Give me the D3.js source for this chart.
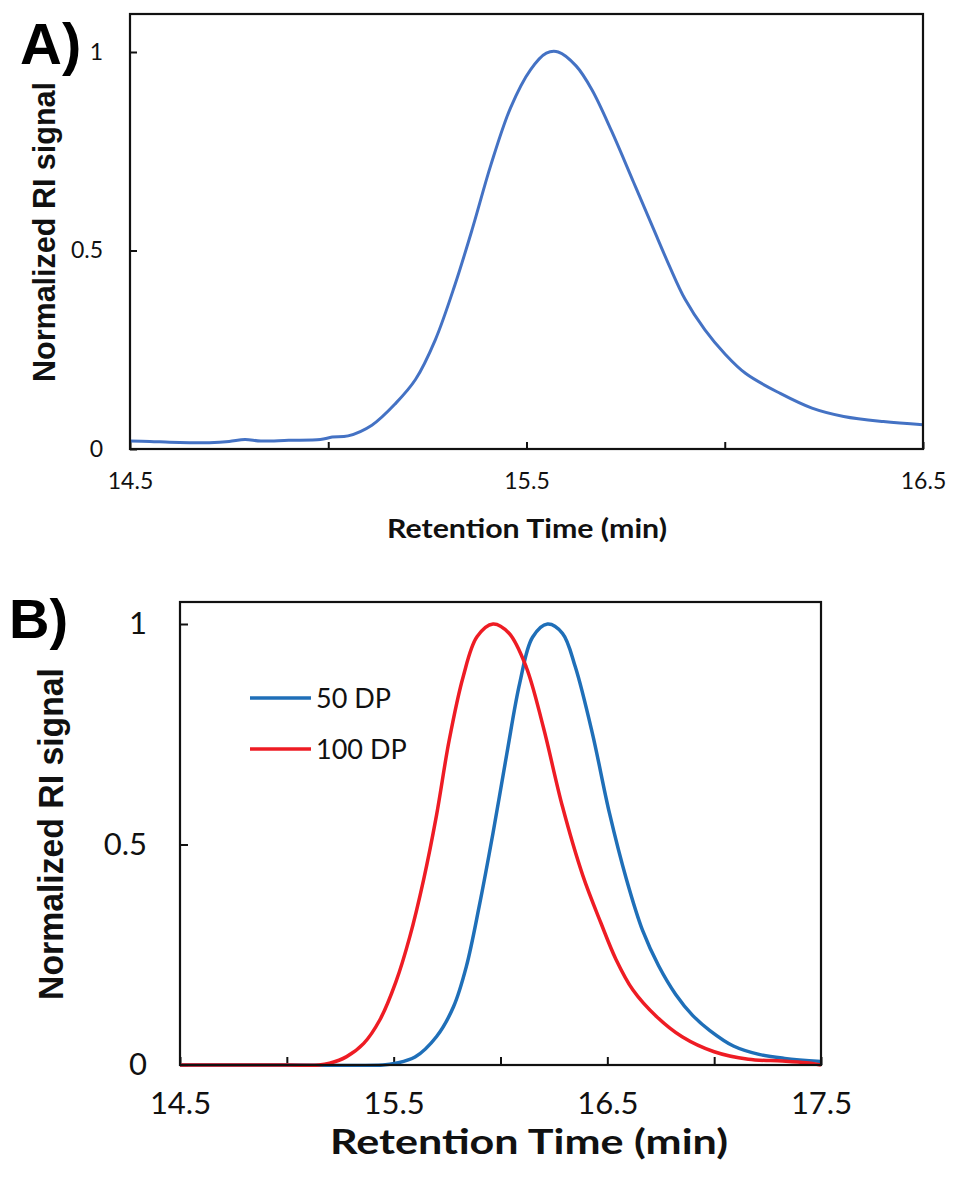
<!DOCTYPE html>
<html>
<head>
<meta charset="utf-8">
<script src="https://cdn.jsdelivr.net/npm/d3@7"></script>
<style>
  html, body { margin: 0; padding: 0; background: #fff; }
  svg { display: block; }
</style>
</head>
<body>
<svg id="chart" width="954" height="1180"></svg>
<script>
// ---------- Data ----------
const timeA = [14.50,14.55,14.60,14.65,14.70,14.75,14.79,14.83,14.90,14.98,15.01,15.05,15.11,15.17,15.22,15.27,15.32,15.365,15.41,15.46,15.51,15.55,15.58,15.625,15.665,15.715,15.77,15.82,15.86,15.90,15.95,16.00,16.053,16.14,16.22,16.30,16.40,16.50];
const signalA = [0.020,0.019,0.017,0.016,0.016,0.019,0.024,0.020,0.022,0.024,0.030,0.033,0.060,0.115,0.175,0.275,0.415,0.560,0.715,0.860,0.955,0.997,1.000,0.965,0.905,0.800,0.672,0.555,0.462,0.377,0.300,0.240,0.190,0.140,0.103,0.082,0.069,0.061];

const time50 = [14.5,15.0,15.45,15.51,15.60,15.70,15.78,15.84,15.90,15.965,16.03,16.09,16.15,16.22,16.29,16.35,16.43,16.51,16.59,16.665,16.74,16.82,16.90,16.98,17.09,17.21,17.33,17.50];
const signal50 = [0,0,0,0.004,0.018,0.064,0.132,0.223,0.359,0.526,0.707,0.866,0.970,1.000,0.979,0.903,0.752,0.571,0.420,0.305,0.225,0.160,0.112,0.078,0.043,0.024,0.015,0.008];

const time100 = [14.5,15.0,15.15,15.20,15.28,15.36,15.435,15.51,15.575,15.64,15.70,15.76,15.825,15.89,15.965,16.04,16.12,16.20,16.29,16.385,16.47,16.54,16.62,16.73,16.85,17.00,17.16,17.32,17.43,17.50];
const signal100 = [0,0,0,0.004,0.019,0.049,0.102,0.188,0.290,0.420,0.565,0.737,0.880,0.971,1.000,0.979,0.903,0.767,0.586,0.430,0.322,0.240,0.170,0.110,0.064,0.030,0.013,0.009,0.005,0.000];

const seriesNamesB = ["50 DP", "100 DP"];
const seriesColorsB = ["#1f6fb8", "#ee1c24"];

const xTicksA = [14.5, 15, 15.5, 16, 16.5];
const xTickLabelsA = ["14.5", "", "15.5", "", "16.5"];
const xTicksB = [14.5, 15, 15.5, 16, 16.5, 17, 17.5];
const xTickLabelsB = ["14.5", "", "15.5", "", "16.5", "", "17.5"];
const yTicks = [0, 0.5, 1];
const yTickLabels = ["0", "0.5", "1"];

const xTitle = "Retention Time (min)";
const yTitle = "Normalized RI signal";

// ---------- Drawing ----------
const svg = d3.select("#chart");
const tickFont = "Lato, 'Open Sans', sans-serif";
const titleFont = "'Liberation Sans', Arial, sans-serif";

function panel(cfg) {
  const x = d3.scaleLinear().domain(cfg.xDomain).range([cfg.left, cfg.right]);
  const y = d3.scaleLinear().domain([0, 1]).range([cfg.y0, cfg.y1]);
  const g = svg.append("g");

  // x axis (ticks pointing inward)
  const xa = g.append("g")
    .attr("transform", `translate(0,${y(0)})`)
    .call(d3.axisBottom(x).tickValues(cfg.xTicks)
      .tickFormat((d, i) => cfg.xLabels[i])
      .tickSizeInner(-cfg.tickLen).tickSizeOuter(0).tickPadding(cfg.xPad));
  xa.select(".domain").remove();
  xa.selectAll("line").attr("stroke", "#111").attr("stroke-width", 2);
  xa.selectAll("text").attr("font-family", tickFont).attr("font-size", cfg.tickSize).attr("fill", "#111");

  // y axis
  const ya = g.append("g")
    .attr("transform", `translate(${cfg.left},0)`)
    .call(d3.axisLeft(y).tickValues(yTicks)
      .tickFormat((d, i) => yTickLabels[i])
      .tickSizeInner(-cfg.tickLen).tickSizeOuter(0).tickPadding(cfg.yPad));
  ya.select(".domain").remove();
  ya.selectAll("line").attr("stroke", "#111").attr("stroke-width", 2);
  ya.selectAll("text").attr("font-family", tickFont).attr("font-size", cfg.tickSize).attr("fill", "#111");

  // lines
  const line = d3.line().x(d => x(d[0])).y(d => y(d[1])).curve(d3.curveCatmullRom.alpha(0.5));
  const clipId = "clip" + cfg.id;
  svg.append("clipPath").attr("id", clipId).append("rect")
    .attr("x", cfg.left).attr("y", cfg.top)
    .attr("width", cfg.right - cfg.left).attr("height", y(0) - cfg.top + 2);
  cfg.series.forEach(s => {
    g.append("path")
      .datum(d3.zip(s.t, s.v))
      .attr("clip-path", `url(#${clipId})`)
      .attr("fill", "none")
      .attr("stroke", s.color)
      .attr("stroke-width", cfg.lineWidth)
      .attr("stroke-linejoin", "round")
      .attr("d", line);
  });

  // frame
  g.append("rect")
    .attr("x", cfg.left).attr("y", cfg.top)
    .attr("width", cfg.right - cfg.left).attr("height", y(0) - cfg.top)
    .attr("fill", "none").attr("stroke", "#111").attr("stroke-width", 2.2);

  // x title
  g.append("text")
    .attr("x", cfg.xTitleCX).attr("y", cfg.xTitleY)
    .attr("text-anchor", "middle")
    .attr("font-family", tickFont).attr("font-weight", "bold")
    .attr("font-size", cfg.xTitleSize).attr("fill", "#111")
    .attr("textLength", cfg.xTitleLen).attr("lengthAdjust", "spacingAndGlyphs")
    .text(xTitle);

  // y title
  g.append("text")
    .attr("transform", `translate(${cfg.yTitleX},${cfg.yTitleCY}) rotate(-90)`)
    .attr("text-anchor", "middle")
    .attr("font-family", titleFont).attr("font-weight", "bold")
    .attr("font-size", cfg.yTitleSize).attr("fill", "#111")
    .attr("textLength", cfg.yTitleLen).attr("lengthAdjust", "spacingAndGlyphs")
    .text(yTitle);

  // panel letter
  g.append("text")
    .attr("x", cfg.letterX).attr("y", cfg.letterY)
    .attr("font-family", titleFont).attr("font-weight", "bold")
    .attr("font-size", cfg.letterSize).attr("fill", "#000")
    .text(cfg.letter);

  return { x, y, g };
}

panel({
  id: "A", letter: "A)", letterX: 20, letterY: 64, letterSize: 58,
  xDomain: [14.5, 16.5], left: 130, right: 923, top: 14, y0: 449, y1: 52,
  xTicks: xTicksA, xLabels: xTickLabelsA, tickLen: 7, xPad: 24, yPad: 27, tickSize: 23,
  xTitleCX: 527, xTitleY: 538, xTitleSize: 26, xTitleLen: 280,
  yTitleX: 55, yTitleCY: 232, yTitleSize: 32, yTitleLen: 300,
  lineWidth: 3,
  series: [{ t: timeA, v: signalA, color: "#4472c4" }]
});

const pB = panel({
  id: "B", letter: "B)", letterX: 9, letterY: 638, letterSize: 56,
  xDomain: [14.5, 17.5], left: 180, right: 821, top: 602, y0: 1065, y1: 624,
  xTicks: xTicksB, xLabels: xTickLabelsB, tickLen: 8, xPad: 27, yPad: 33, tickSize: 31,
  xTitleCX: 529, xTitleY: 1154, xTitleSize: 35, xTitleLen: 398,
  yTitleX: 63, yTitleCY: 834, yTitleSize: 35, yTitleLen: 332,
  lineWidth: 3.5,
  series: [
    { t: time50, v: signal50, color: seriesColorsB[0] },
    { t: time100, v: signal100, color: seriesColorsB[1] }
  ]
});

// legend for panel B
const legend = pB.g.append("g");
seriesNamesB.forEach((name, i) => {
  const ly = 698 + i * 51;
  legend.append("line")
    .attr("x1", 250).attr("x2", 311).attr("y1", ly).attr("y2", ly)
    .attr("stroke", seriesColorsB[i]).attr("stroke-width", 3.5);
  legend.append("text")
    .attr("x", 316).attr("y", ly).attr("dy", "0.36em")
    .attr("font-family", tickFont).attr("font-size", 27).attr("fill", "#111")
    .text(name);
});
</script>
</body>
</html>
